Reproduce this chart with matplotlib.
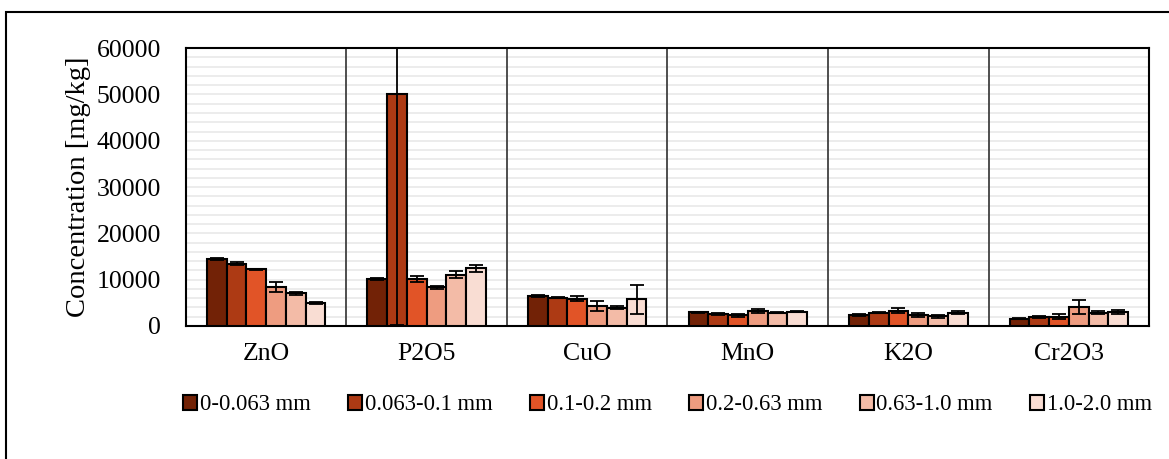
import numpy as np
import matplotlib
matplotlib.use("Agg")
import matplotlib.pyplot as plt
from matplotlib.patches import Rectangle

plt.rcParams['font.family'] = ['Liberation Serif', 'DejaVu Serif']

# categories and size fractions
oxides = ["ZnO", "P2O5", "CuO", "MnO", "K2O", "Cr2O3"]
fractions = ["0-0.063 mm", "0.063-0.1 mm", "0.1-0.2 mm",
             "0.2-0.63 mm", "0.63-1.0 mm", "1.0-2.0 mm"]

# concentration per fraction, one value per oxide
f1 = [14400, 10150, 6480, 2950, 2370, 1510]
f2 = [13400, 50200, 6120, 2600, 2880, 2000]
f3 = [12200, 10150, 5900, 2300, 3300, 2000]
f4 = [8400, 8300, 4320, 3240, 2300, 4170]
f5 = [7000, 11100, 3960, 2880, 2100, 2880]
f6 = [5000, 12400, 5760, 3100, 2880, 3020]

# error bars
e1 = [200, 150, 150, 100, 150, 100]
e2 = [300, 50000, 150, 150, 150, 200]
e3 = [150, 650, 500, 300, 500, 500]
e4 = [1100, 400, 1050, 400, 400, 1500]
e5 = [300, 800, 300, 200, 300, 300]
e6 = [200, 700, 3100, 150, 300, 400]

colors = ["#722206", "#AD3A14", "#E15427", "#EE9C80", "#F3BBA7", "#F9DDD3"]

values = [f1, f2, f3, f4, f5, f6]
errors = [e1, e2, e3, e4, e5, e6]

fig = plt.figure(figsize=(11.69, 4.59), dpi=100)
ax = fig.add_axes([0.159, 0.290, 0.824, 0.605])

x = np.arange(len(oxides))
w = 0.123
for i in range(6):
    pos = x + (i - 2.5) * w
    ax.bar(pos, values[i], w, color=colors[i], edgecolor="black", linewidth=1.5,
           label=fractions[i], zorder=3,
           yerr=errors[i], error_kw=dict(ecolor="black", elinewidth=1.3,
                                         capsize=5, capthick=1.3, zorder=4))

ax.set_xlim(-0.5, len(oxides) - 0.5)
ax.set_ylim(0, 60000)
ax.set_yticks(np.arange(0, 60001, 10000))
ax.set_yticks(np.arange(0, 60001, 2000), minor=True)
ax.yaxis.grid(True, which="both", color="#EBEBEB", linewidth=1.3, zorder=0)
ax.set_axisbelow(True)
for b in np.arange(0.5, len(oxides) - 0.5, 1):
    ax.axvline(b, color="#404040", linewidth=1.3, zorder=1)

ax.set_xticks(x)
ax.set_xticklabels(oxides)
ax.tick_params(axis="both", which="both", length=0, labelsize=18.5)
ax.tick_params(axis="x", pad=12)
ax.tick_params(axis="y", pad=18)
for s in ax.spines.values():
    s.set_linewidth(1.5)
    s.set_color("black")
ax.set_ylabel("Concentration [mg/kg]", fontsize=20.5, labelpad=4)

fig.legend(loc="center", bbox_to_anchor=(0.571, 0.118), ncol=6, frameon=False,
           fontsize=16.3, handlelength=0.62, handleheight=0.62, handletextpad=0.12,
           columnspacing=1.65)

fig.patches.append(Rectangle((0.005, -0.1), 1.2, 1.074, transform=fig.transFigure,
                             fill=False, edgecolor="black", linewidth=1.5))

fig.savefig("out.png", dpi=100)
